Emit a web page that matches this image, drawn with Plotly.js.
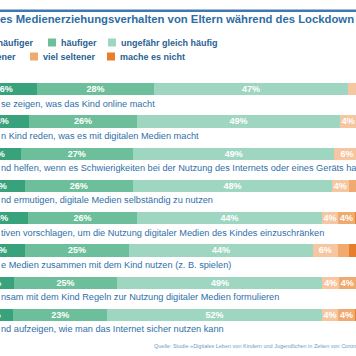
<!DOCTYPE html>
<html><head><meta charset="utf-8">
<script src="https://cdn.plot.ly/plotly-3.0.1.min.js"></script>
<style>html,body{margin:0;padding:0;background:#fff;overflow:hidden}#chart{width:356px;height:356px}</style>
</head><body><div id="chart"></div>
<script>
// ---- data ----
const categories = [
  "se zeigen, was das Kind online macht",
  "n Kind reden, was es mit digitalen Medien macht",
  "nd helfen, wenn es Schwierigkeiten bei der Nutzung des Internets oder eines Geräts hat",
  "nd ermutigen, digitale Medien selbständig zu nutzen",
  "tiven vorschlagen, um die Nutzung digitaler Medien des Kindes einzuschränken",
  "e Medien zusammen mit dem Kind nutzen (z. B. spielen)",
  "nsam mit dem Kind Regeln zur Nutzung digitaler Medien formulieren",
  "nd aufzeigen, wie man das Internet sicher nutzen kann"
];
const seriesNames = ["viel häufiger", "häufiger", "ungefähr gleich häufig", "seltener", "viel seltener", "mache es nicht"];
const vielHaeufiger = [16.0, 14.1, 12.1, 13.1, 13.8, 13.1, 10.4, 10.2];
const haeufiger     = [28.2, 26.0, 27.0, 26.0, 26.4, 25.1, 25.0, 22.8];
const gleichHaeufig = [46.8, 48.9, 48.6, 48.0, 44.4, 44.3, 49.4, 51.6];
const seltener      = [3.0, 4.0, 6.0, 4.0, 4.0, 6.0, 4.0, 4.0];
const vielSeltener  = [3.0, 4.0, 3.3, 3.0, 4.0, 2.7, 4.0, 4.0];
const macheNicht    = [3.0, 3.0, 3.0, 5.9, 7.4, 8.8, 7.2, 7.4];
const titleText = "es Medienerziehungsverhalten von Eltern während des Lockdown";
const sourceText = "Quelle: Studie »Digitales Leben von Kindern und Jugendlichen in Zeiten von Corona«";

// ---- styles ----
const seriesColors = ["#37a27b", "#6dbf9c", "#9fd6c1", "#f5c6a0", "#f0a96e", "#e87d2a"];
const FONT = "Liberation Sans, Arial, sans-serif";
const W = 356, H = 356, M = {l: 0, r: 0, t: 73, b: 25};
const plotH = H - M.t - M.b;
const px2x = px => px / W;
const py2y = py => (H - M.b - py) / plotH;

const seriesValues = [vielHaeufiger, haeufiger, gleichHaeufig, seltener, vielSeltener, macheNicht];
const traces = seriesValues.map((vals, i) => ({
  type: "bar", orientation: "h", name: seriesNames[i],
  x: vals, y: categories,
  marker: {color: seriesColors[i], line: {width: 0}},
  text: vals.map(v => v >= 3.5 ? Math.round(v) + "%" : ""),
  textposition: "inside", insidetextanchor: "middle", textangle: 0, constraintext: "none",
  textfont: {family: FONT, size: 9, color: "#ffffff", weight: "bold"},
  hoverinfo: "skip", showlegend: false
}));

const shapes = [
  {type: "line", xref: "paper", yref: "paper", x0: 0, x1: 1, y0: py2y(10.7), y1: py2y(10.7),
   line: {color: "#4079b0", width: 2.5}}
];
const annotations = [];

// custom legend (two rows)
const legendRows = [
  {y: 42.5, items: [{i: 0, textRight: 35}, {i: 1, sw: 48}, {i: 2, sw: 108}]},
  {y: 56.5, items: [{i: 3, textRight: 17}, {i: 4, sw: 30}, {i: 5, sw: 107}]}
];
const legendFont = {family: FONT, size: 9, color: "#2a5f93", weight: "bold"};
legendRows.forEach(row => {
  row.items.forEach(it => {
    if (it.sw !== undefined) {
      shapes.push({type: "rect", xref: "paper", yref: "paper",
        x0: px2x(it.sw), x1: px2x(it.sw + 8), y0: py2y(row.y + 4), y1: py2y(row.y - 4),
        fillcolor: seriesColors[it.i], line: {width: 0}});
      annotations.push({xref: "paper", yref: "paper", x: px2x(it.sw + 12), y: py2y(row.y),
        xanchor: "left", yanchor: "middle", text: seriesNames[it.i], showarrow: false,
        font: legendFont, borderpad: 0});
    } else {
      annotations.push({xref: "paper", yref: "paper", x: px2x(it.textRight), y: py2y(row.y),
        xanchor: "right", yanchor: "middle", text: seriesNames[it.i], showarrow: false,
        font: legendFont, borderpad: 0});
    }
  });
});

// category labels under each bar
categories.forEach(c => {
  annotations.push({xref: "paper", yref: "y", x: 0, y: c, yshift: -14.5,
    xanchor: "left", yanchor: "middle", text: c, showarrow: false, borderpad: 0,
    font: {family: FONT, size: 9.2, color: "#2f6fa9"}});
});

// source
annotations.push({xref: "paper", yref: "paper", x: px2x(153), y: py2y(345.5),
  xanchor: "left", yanchor: "middle", text: sourceText, showarrow: false, borderpad: 0,
  font: {family: FONT, size: 5.5, color: "#6f9cc6"}});

const xLo = 7.1, pxPerUnit = 4.15;
const layout = {
  width: W, height: H, margin: M,
  paper_bgcolor: "#ffffff", plot_bgcolor: "#ffffff",
  barmode: "stack", bargap: 0.62,
  title: {text: titleText, x: 0, xref: "container", xanchor: "left",
    y: 1 - 19 / H, yref: "container", yanchor: "middle", pad: {t: 0, b: 0, l: 0, r: 0},
    font: {family: FONT, size: 11.3, color: "#2c6da6", weight: "bold"}},
  xaxis: {range: [xLo, xLo + W / pxPerUnit], showgrid: false, zeroline: false,
    showticklabels: false, showline: false, ticks: "", fixedrange: true},
  yaxis: {type: "category", range: [7.5, -0.5], showgrid: false, zeroline: false,
    showticklabels: false, showline: false, ticks: "", fixedrange: true},
  uniformtext: {mode: "show", minsize: 9},
  shapes: shapes, annotations: annotations, showlegend: false
};
Plotly.newPlot("chart", traces, layout, {staticPlot: true, displayModeBar: false});
</script>
</body></html>
